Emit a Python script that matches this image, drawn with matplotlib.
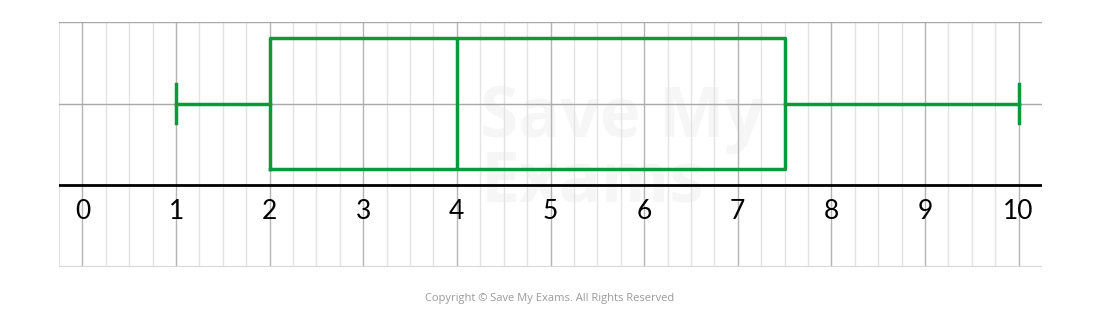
import matplotlib.pyplot as plt

# five-number summary
minimum = 1
q1 = 2
median = 4
q3 = 7.5
maximum = 10
tick_values = [0, 1, 2, 3, 4, 5, 6, 7, 8, 9, 10]

green = '#0a9a3c'

fig = plt.figure(figsize=(11, 3.1), dpi=100)
ax = fig.add_axes([59 / 1100, 43 / 310, 983 / 1100, 245 / 310])
ax.set_xlim(-0.25, 10.25)
ax.set_ylim(0, 3)

# grid: quarter steps light, whole numbers darker
for i in range(0, 42):
    x = -0.25 + i * 0.25
    if abs(x - round(x)) < 1e-9:
        ax.axvline(x, color='#b4b4b4', lw=1, zorder=1)
    else:
        ax.axvline(x, color='#e3e3e3', lw=1, zorder=0)
for y in [2, 3]:
    ax.axhline(y, color='#a8a8a8', lw=1, zorder=1)
ax.axhline(0, color='#d8d8d8', lw=1.5, zorder=1)
ax.axhline(1, color='black', lw=2, zorder=2)

# watermark
ax.text(4.25, 1.42, 'Save My\nExams', color='#f6f6f6', fontsize=50, fontweight='bold',
        family='Open Sans', ha='left', va='center', linespacing=0.9, zorder=-1)

stats = [{'whislo': minimum, 'q1': q1, 'med': median, 'q3': q3, 'whishi': maximum}]
ax.bxp(stats, positions=[2], widths=1.6, capwidths=0.48, orientation='horizontal',
       showfliers=False, manage_ticks=False,
       boxprops=dict(color=green, lw=2.5),
       medianprops=dict(color=green, lw=2.5),
       whiskerprops=dict(color=green, lw=2.5),
       capprops=dict(color=green, lw=2.5))

for v in tick_values:
    ax.text(v, 0.68, str(v), fontsize=19, family='Lato', ha='center', va='center', color='black')

ax.set_xticks([])
ax.set_yticks([])
for s in ax.spines.values():
    s.set_visible(False)

fig.text(0.5, 11 / 310, 'Copyright © Save My Exams. All Rights Reserved', ha='center', va='center',
         fontsize=8, color='#9a9a9a', family='Open Sans')

fig.savefig('out.png', dpi=100)
